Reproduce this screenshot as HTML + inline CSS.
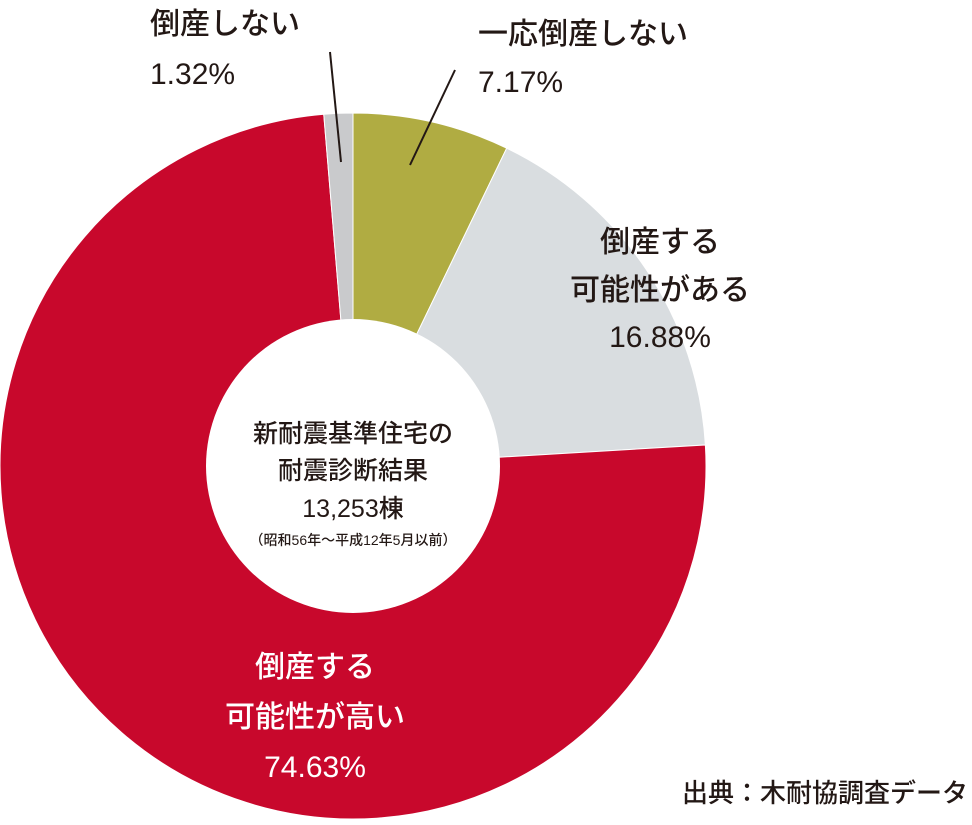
<!DOCTYPE html>
<html><head><meta charset="utf-8">
<style>
html,body{margin:0;padding:0;background:#fff;}
body{width:972px;height:820px;overflow:hidden;font-family:"Liberation Sans","Noto Sans CJK JP",sans-serif;}
svg text{font-family:"Liberation Sans","Noto Sans CJK JP",sans-serif;}
</style></head>
<body>
<svg id="chart" width="972" height="820" viewBox="0 0 972 820" xmlns="http://www.w3.org/2000/svg">
<g id="slices"></g>
<circle cx="353" cy="466" r="147" fill="#fff"/>
<g fill="#231815" text-anchor="middle" font-weight="500">
<text x="353" y="442" font-size="25">新耐震基準住宅の</text>
<text x="353" y="479" font-size="25">耐震診断結果</text>
<text x="353" y="517" font-size="25">13,253棟</text>
<text x="353" y="545" font-size="14">（昭和56年～平成12年5月以前）</text>
</g>
<g stroke="#231815" stroke-width="2">
<line x1="410" y1="165" x2="455" y2="70"/>
<line x1="341" y1="162" x2="330" y2="52"/>
</g>
<g font-size="30" font-weight="500" fill="#231815">
<text x="150" y="34">倒産しない</text>
<text x="150" y="84">1.32%</text>
<text x="478" y="44">一応倒産しない</text>
<text x="478" y="92">7.17%</text>
<text x="660" y="252" text-anchor="middle">倒産する</text>
<text x="660" y="300" text-anchor="middle">可能性がある</text>
<text x="660" y="347" text-anchor="middle">16.88%</text>
<text x="315" y="677" text-anchor="middle" fill="#fff">倒産する</text>
<text x="315" y="727" text-anchor="middle" fill="#fff">可能性が高い</text>
<text x="315" y="777" text-anchor="middle" fill="#fff">74.63%</text>
<text x="968" y="802" text-anchor="end" font-size="26">出典：木耐協調査データ</text>
</g>
</svg>
<script>
const categories = ["一応倒産しない","倒産する可能性がある","倒産する可能性が高い","倒産しない"];
const values = [7.17, 16.88, 74.63, 1.32];
const colors = ["#b0ac42","#d9dde0","#c8082c","#c9cacc"];
const cx = 353, cy = 466, R = 353;
const total = values.reduce((a,b)=>a+b,0);
function angleOf(v){ return v / total * Math.PI * 2; }
function pt(a){ return [cx + R*Math.sin(a), cy - R*Math.cos(a)]; }
const g = document.getElementById('slices');
let start = 0;
values.forEach((v,i)=>{
  const end = start + angleOf(v);
  const p0 = pt(start), p1 = pt(end);
  const large = (end - start) > Math.PI ? 1 : 0;
  const path = document.createElementNS('http://www.w3.org/2000/svg','path');
  path.setAttribute('d', `M${cx},${cy} L${p0[0]},${p0[1]} A${R},${R} 0 ${large} 1 ${p1[0]},${p1[1]} Z`);
  path.setAttribute('fill', colors[i]);
  path.setAttribute('stroke', '#fff');
  path.setAttribute('stroke-width', '1');
  
  
  g.appendChild(path);
  start = end;
});
</script>
</body></html>
